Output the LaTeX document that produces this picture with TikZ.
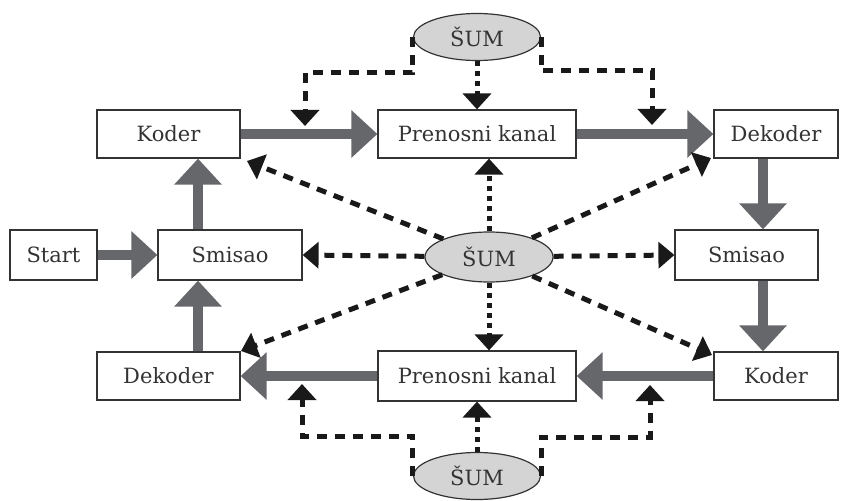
\documentclass[tikz,border=0pt]{standalone}
\usepackage{fontspec}
\setmainfont{DejaVu Serif}
\usetikzlibrary{arrows.meta,shapes.geometric}
\definecolor{flowgray}{HTML}{66676B}
\definecolor{sumgray}{HTML}{D4D4D4}
\definecolor{edge}{HTML}{333333}
\begin{document}
\begin{tikzpicture}[x=1pt,y=-1pt,
  lbl/.style={font=\fontsize{21}{24}\selectfont, text=edge},
  box/.style={lbl, draw=edge, line width=1.2pt, fill=white, minimum height=48pt, inner sep=0pt},
  noise/.style={lbl, ellipse, draw=edge, line width=1.2pt, fill=sumgray, minimum width=128pt, minimum height=48pt, inner sep=0pt},
  flow/.style={draw=flowgray, line width=10pt, -{Triangle[width=46pt,length=26pt,fill=flowgray]}},
  dsh/.style={draw=black!90, line width=5pt, dash pattern=on 10pt off 8pt, -{Triangle[width=26pt,length=16pt]}},
  dsx/.style={draw=black!90, line width=5pt, dash pattern=on 10pt off 8pt, -{Triangle[width=28pt,length=16pt]}},
  dtt/.style={draw=black!90, line width=5pt, dash pattern=on 5pt off 5pt, -{Triangle[width=28pt,length=16pt]}}
]
\useasboundingbox (0,0) rectangle (850,500);
% nodes
\node[box, minimum width=143pt] (koderT) at (168.5,134) {Koder};
\node[box, minimum width=198pt] (kanalT) at (477,134) {Prenosni kanal};
\node[box, minimum width=124pt] (dekoderT) at (776,134) {Dekoder};
\node[box, minimum width=87pt, minimum height=50pt] (start) at (53.5,255) {Start};
\node[box, minimum width=144pt, minimum height=50pt] (smisaoL) at (230,255) {Smisao};
\node[noise, minimum height=50pt] (sumC) at (489,257) {ŠUM};
\node[box, minimum width=143pt, minimum height=50pt] (smisaoR) at (746.5,255) {Smisao};
\node[box, minimum width=143pt] (dekoderB) at (168.5,376) {Dekoder};
\node[box, minimum width=198pt, minimum height=50pt] (kanalB) at (477,376) {Prenosni kanal};
\node[box, minimum width=124pt] (koderB) at (776,376) {Koder};
\node[noise, minimum width=127pt, minimum height=47pt] (sumT) at (477,37) {ŠUM};
\node[noise, minimum width=127pt, minimum height=47pt] (sumB) at (477,476) {ŠUM};
% helper coordinates
\coordinate (lx) at (198,0);
\coordinate (rx) at (763,0);
\coordinate (tla) at (305,73);
\coordinate (tlt) at (305,126);
\coordinate (tra) at (652,71);
\coordinate (trt) at (652,125);
\coordinate (bla) at (302,436);
\coordinate (blt) at (302,384);
\coordinate (bra) at (650,437);
\coordinate (brt) at (650,385);
\coordinate (cKT) at (247,161);
\coordinate (cDT) at (711,158);
\coordinate (cDB) at (241,351);
\coordinate (cKB) at (712,355);
% gray flow arrows
\draw[flow] (koderT.east) -- (kanalT.west);
\draw[flow] (kanalT.east) -- (dekoderT.west);
\draw[flow] (start.east) -- (smisaoL.west);
\draw[flow] (smisaoL.north -| lx) -- (koderT.south -| lx);
\draw[flow] (dekoderB.north -| lx) -- (smisaoL.south -| lx);
\draw[flow] (dekoderT.south -| rx) -- (smisaoR.north -| rx);
\draw[flow] (smisaoR.south -| rx) -- (koderB.north -| rx);
\draw[flow] (koderB.west) -- (kanalB.east);
\draw[flow] (kanalB.west) -- (dekoderB.east);
% top and bottom noise
\draw[dsx] (sumT.west) |- (tla) -- (tlt);
\draw[dsx] (sumT.east) |- (tra) -- (trt);
\draw[dtt] (sumT.south) -- (kanalT.north);
\draw[dsx] (sumB.west) |- (bla) -- (blt);
\draw[dsx] (sumB.east) |- (bra) -- (brt);
\draw[dtt] (sumB.north) -- (kanalB.south);
% central noise
\draw[dtt] (sumC.north) -- (sumC.north |- kanalT.south);
\draw[dtt] (sumC.south) -- (sumC.south |- kanalB.north);
\draw[dsh] (sumC) -- (smisaoL.east);
\draw[dsh] (sumC) -- (smisaoR.west);
\draw[dsh] (sumC) -- (cKT);
\draw[dsh] (sumC) -- (cDT);
\draw[dsh] (sumC) -- (cDB);
\draw[dsh] (sumC) -- (cKB);
\end{tikzpicture}
\end{document}
